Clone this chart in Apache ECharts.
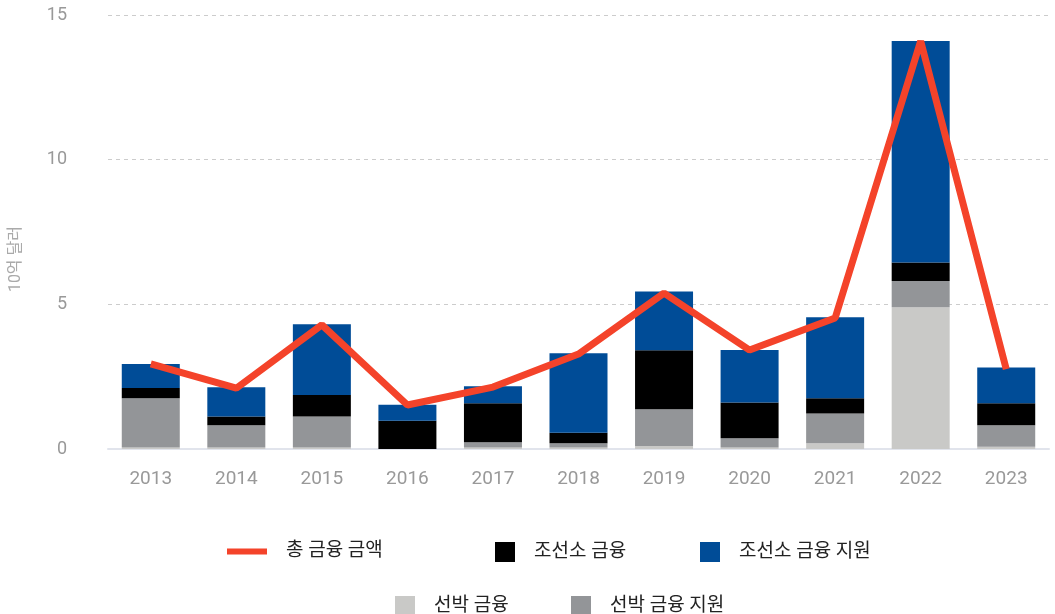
<!DOCTYPE html>
<html>
<head>
<meta charset="utf-8">
<script src="https://cdn.jsdelivr.net/npm/echarts@6/dist/echarts.min.js"></script>
<style>
  html, body { margin: 0; padding: 0; background: #fff; }
  #chart { width: 1055px; height: 614px; }
</style>
</head>
<body>
<div id="chart"></div>
<script>
const years = ['2013', '2014', '2015', '2016', '2017', '2018', '2019', '2020', '2021', '2022', '2023'];

// stacked segments, billions of dollars
const shipFinance = [0.05, 0.05, 0.05, 0, 0.05, 0.05, 0.1, 0.05, 0.2, 4.9, 0.08];
const shipSupport = [1.70, 0.77, 1.07, 0, 0.18, 0.15, 1.27, 0.32, 1.03, 0.91, 0.74];
const yardFinance = [0.36, 0.30, 0.75, 0.98, 1.35, 0.36, 2.04, 1.24, 0.52, 0.64, 0.76];
const yardSupport = [0.83, 1.01, 2.44, 0.55, 0.59, 2.75, 2.03, 1.81, 2.80, 7.65, 1.24];
const totalFinance = [2.94, 2.10, 4.29, 1.52, 2.14, 3.28, 5.39, 3.42, 4.53, 14.1, 2.76];

const yTicks = [0, 5, 10, 15];

const chart = echarts.init(document.getElementById('chart'));

const font = 'Roboto, "Noto Sans CJK KR", sans-serif';

const legendText = { fontSize: 19, color: '#222', fontFamily: font, padding: [0, 0, 0, 14] };
const makeLegend = (name, left, top, w, h) => ({
  data: [name],
  left: left,
  top: top,
  icon: 'rect',
  itemWidth: w,
  itemHeight: h,
  textStyle: legendText,
  selectedMode: false
});

const option = {
  animation: false,
  grid: { left: 108, right: 6, top: 15, bottom: 165 },
  graphic: [{
    type: 'text',
    left: 8,
    top: 226,
    style: { text: '10억 달러', fill: '#aaa', font: '16px ' + font },
    rotation: Math.PI / 2,
    originX: 0, originY: 0
  }],
  legend: [
    makeLegend('총 금융 금액', 222, 537, 40, 6),
    makeLegend('조선소 금융', 490, 537, 20, 20),
    makeLegend('조선소 금융 지원', 695, 537, 20, 20),
    makeLegend('선박 금융', 390, 591, 20, 20),
    makeLegend('선박 금융 지원', 566, 591, 20, 20)
  ],
  xAxis: {
    type: 'category',
    data: years,
    axisLine: { lineStyle: { color: '#e1e4ec', width: 2 } },
    axisTick: { show: false },
    axisLabel: { color: '#999', fontSize: 19, margin: 21, fontFamily: font }
  },
  yAxis: {
    type: 'value',
    min: yTicks[0],
    max: yTicks[yTicks.length - 1],
    interval: 5,
    axisLabel: { color: '#999', fontSize: 18, margin: 41, fontFamily: font },
    splitLine: { lineStyle: { type: [4, 4], color: '#ccc' } },
    axisLine: { show: false },
    axisTick: { show: false }
  },
  series: [
    { name: '선박 금융', type: 'bar', stack: 'total', data: shipFinance, barWidth: 58, itemStyle: { color: '#c9c9c7' } },
    { name: '선박 금융 지원', type: 'bar', stack: 'total', data: shipSupport, itemStyle: { color: '#939598' } },
    { name: '조선소 금융', type: 'bar', stack: 'total', data: yardFinance, itemStyle: { color: '#000000' } },
    { name: '조선소 금융 지원', type: 'bar', stack: 'total', data: yardSupport, itemStyle: { color: '#004c97' } },
    {
      name: '총 금융 금액',
      type: 'line',
      data: totalFinance,
      symbol: 'none',
      z: 5,
      lineStyle: { color: '#f4432a', width: 7 },
      itemStyle: { color: '#f4432a' }
    }
  ]
};

chart.setOption(option);
</script>
</body>
</html>
